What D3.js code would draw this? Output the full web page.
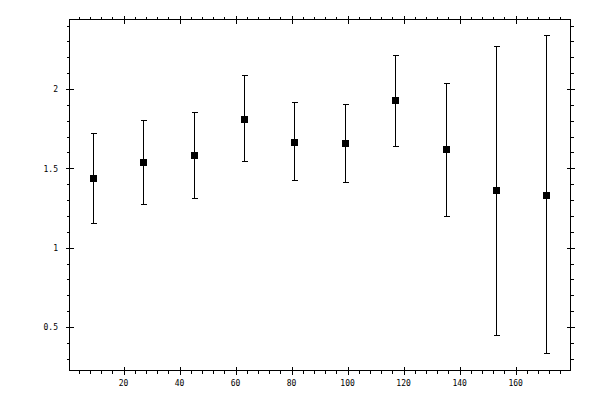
<!DOCTYPE html>
<html>
<head>
<meta charset="utf-8">
<script src="https://cdn.jsdelivr.net/npm/d3@7"></script>
<style>
  html, body { margin: 0; padding: 0; background: #fff; }
  svg { display: block; }
  text { font-family: "DejaVu Sans Mono", monospace; font-size: 8px; fill: #000; }
</style>
</head>
<body>
<svg id="chart" width="600" height="400"></svg>
<script>
// Data
const xValues = [9, 27, 45, 63, 81, 99, 117, 135, 153, 171];
const yValues = [1.439, 1.540, 1.584, 1.817, 1.672, 1.660, 1.931, 1.622, 1.364, 1.338];
const yUpper  = [1.723, 1.805, 1.855, 2.090, 1.918, 1.905, 2.214, 2.038, 2.273, 2.340];
const yLower  = [1.156, 1.275, 1.313, 1.546, 1.427, 1.414, 1.641, 1.200, 0.452, 0.336];

const xMajorTicks = [20, 40, 60, 80, 100, 120, 140, 160];
const xTickLabels = ["20", "40", "60", "80", "100", "120", "140", "160"];
const yMajorTicks = [0.5, 1, 1.5, 2];
const yTickLabels = ["0.5", "1", "1.5", "2"];

const xDomain = [0.7, 179.6];
const yDomain = [0.229, 2.441];

const svg = d3.select("#chart");
const pLeft = 69.5, pRight = 570.5, pTop = 19.5, pBottom = 370.5;

const x = d3.scaleLinear().domain(xDomain).range([pLeft, pRight]);
const y = d3.scaleLinear().domain(yDomain).range([pBottom, pTop]);

const g = svg.append("g").attr("shape-rendering", "crispEdges");

// frame
g.append("rect")
  .attr("x", pLeft).attr("y", pTop)
  .attr("width", pRight - pLeft).attr("height", pBottom - pTop)
  .attr("fill", "none").attr("stroke", "#000").attr("stroke-width", 1);

const xMinor = d3.range(4, 180, 4).filter(v => v > xDomain[0] && v < xDomain[1] && v % 20 !== 0);
const yMinor = d3.range(3, 25).map(v => v / 10).filter(v => v > yDomain[0] && v < yDomain[1] && Math.round(v * 10) % 5 !== 0);

const px = v => Math.round(x(v)) + 0.5;
const py = v => Math.round(y(v) - 0.5) + 0.5;

// x ticks bottom & top
xMinor.forEach(v => {
  g.append("line").attr("x1", px(v)).attr("x2", px(v)).attr("y1", pBottom).attr("y2", pBottom + 3).attr("stroke", "#000");
  g.append("line").attr("x1", px(v)).attr("x2", px(v)).attr("y1", pTop).attr("y2", pTop - 3).attr("stroke", "#000");
});
xMajorTicks.forEach((v, i) => {
  g.append("line").attr("x1", px(v)).attr("x2", px(v)).attr("y1", pBottom - 4).attr("y2", pBottom + 4).attr("stroke", "#000");
  g.append("line").attr("x1", px(v)).attr("x2", px(v)).attr("y1", pTop - 4).attr("y2", pTop + 4).attr("stroke", "#000");
  svg.append("text").attr("x", x(v)).attr("y", 386).attr("text-anchor", "middle").text(xTickLabels[i]);
});

// y ticks left & right
yMinor.forEach(v => {
  g.append("line").attr("x1", pLeft).attr("x2", pLeft - 3).attr("y1", py(v)).attr("y2", py(v)).attr("stroke", "#000");
  g.append("line").attr("x1", pRight).attr("x2", pRight + 3).attr("y1", py(v)).attr("y2", py(v)).attr("stroke", "#000");
});
yMajorTicks.forEach((v, i) => {
  g.append("line").attr("x1", pLeft - 4).attr("x2", pLeft + 4).attr("y1", py(v)).attr("y2", py(v)).attr("stroke", "#000");
  g.append("line").attr("x1", pRight - 4).attr("x2", pRight + 4).attr("y1", py(v)).attr("y2", py(v)).attr("stroke", "#000");
  svg.append("text").attr("x", 58).attr("y", y(v) + 3).attr("text-anchor", "end").text(yTickLabels[i]);
});

// error bars
const pts = xValues.map((xv, i) => ({ x: xv, y: yValues[i], hi: yUpper[i], lo: yLower[i] }));
const eg = svg.append("g").attr("shape-rendering", "crispEdges").attr("stroke", "#000").attr("stroke-width", 1);
pts.forEach(d => {
  const cx = px(d.x);
  eg.append("line").attr("x1", cx).attr("x2", cx).attr("y1", py(d.hi)).attr("y2", py(d.lo));
  eg.append("line").attr("x1", cx - 2.5).attr("x2", cx + 3.5).attr("y1", py(d.hi)).attr("y2", py(d.hi));
  eg.append("line").attr("x1", cx - 2.5).attr("x2", cx + 3.5).attr("y1", py(d.lo)).attr("y2", py(d.lo));
});

// markers
svg.append("g").attr("shape-rendering", "crispEdges")
  .selectAll("rect").data(pts).join("rect")
  .attr("x", d => Math.round(x(d.x)) - 3)
  .attr("y", d => Math.round(y(d.y)) - 3)
  .attr("width", 7).attr("height", 7)
  .attr("fill", "#000");
</script>
</body>
</html>
